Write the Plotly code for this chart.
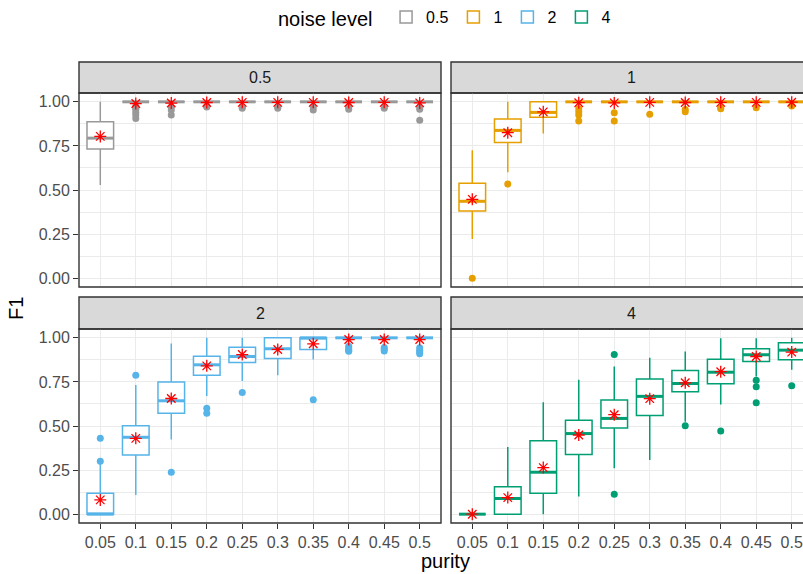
import plotly.graph_objects as go

# ---------------- data ----------------
purity = ["0.05", "0.1", "0.15", "0.2", "0.25", "0.3", "0.35", "0.4", "0.45", "0.5"]
noise_levels = ["0.5", "1", "2", "4"]
colors = ["#999999", "#E69F00", "#56B4E9", "#009E73"]

# noise 0.5
q1_n05 = [0.732, 1, 1, 1, 1, 1, 1, 1, 1, 1]
med_n05 = [0.794, 1, 1, 1, 1, 1, 1, 1, 1, 1]
q3_n05 = [0.887, 1, 1, 1, 1, 1, 1, 1, 1, 1]
lo_n05 = [0.528, 1, 1, 1, 1, 1, 1, 1, 1, 1]
hi_n05 = [1.0, 1, 1, 1, 1, 1, 1, 1, 1, 1]
mean_n05 = [0.804, 0.990, 0.993, 0.996, 0.997, 0.997, 0.997, 0.996, 0.997, 0.994]
out_n05 = [[], [0.975, 0.965, 0.955, 0.94, 0.925, 0.905], [0.97, 0.953, 0.925], [0.975, 0.97],
           [0.97, 0.963], [0.97, 0.963], [0.97, 0.953], [0.97, 0.958], [0.97, 0.963],
           [0.97, 0.958, 0.896]]

# noise 1
q1_n1 = [0.381, 0.770, 0.913, 1, 1, 1, 1, 1, 1, 1]
med_n1 = [0.436, 0.838, 0.940, 1, 1, 1, 1, 1, 1, 1]
q3_n1 = [0.538, 0.902, 1.0, 1, 1, 1, 1, 1, 1, 1]
lo_n1 = [0.222, 0.600, 0.821, 1, 1, 1, 1, 1, 1, 1]
hi_n1 = [0.726, 1.0, 1.0, 1, 1, 1, 1, 1, 1, 1]
mean_n1 = [0.447, 0.825, 0.943, 0.995, 0.994, 0.997, 0.996, 0.997, 0.997, 0.998]
out_n1 = [[0.0], [0.534], [], [0.96, 0.943, 0.925, 0.891], [0.938, 0.891], [0.93],
          [0.957, 0.943], [0.966, 0.96], [0.966], [0.976]]

# noise 2
q1_n2 = [0.0, 0.336, 0.573, 0.788, 0.860, 0.883, 0.934, 1, 1, 1]
med_n2 = [0.0, 0.436, 0.643, 0.847, 0.894, 0.938, 1.0, 1, 1, 1]
q3_n2 = [0.119, 0.502, 0.749, 0.896, 0.947, 1.0, 1.0, 1, 1, 1]
lo_n2 = [0.0, 0.109, 0.424, 0.670, 0.755, 0.788, 0.877, 1, 1, 1]
hi_n2 = [0.29, 0.732, 0.968, 1.0, 1.0, 1.0, 1.0, 1, 1, 1]
mean_n2 = [0.081, 0.430, 0.656, 0.841, 0.905, 0.934, 0.966, 0.990, 0.990, 0.990]
out_n2 = [[0.30, 0.43], [0.788], [0.238], [0.600, 0.572], [0.690], [], [0.649],
          [0.952, 0.94, 0.93, 0.924], [0.945, 0.935, 0.925], [0.943, 0.93, 0.92, 0.909]]

# noise 4
q1_n4 = [0.0, 0.0, 0.119, 0.338, 0.488, 0.560, 0.694, 0.740, 0.866, 0.876]
med_n4 = [0.0, 0.089, 0.238, 0.457, 0.543, 0.668, 0.741, 0.805, 0.904, 0.930]
q3_n4 = [0.0, 0.155, 0.417, 0.532, 0.647, 0.766, 0.815, 0.879, 0.938, 0.972]
lo_n4 = [0.0, 0.0, 0.0, 0.100, 0.260, 0.307, 0.524, 0.622, 0.781, 0.819]
hi_n4 = [0.0, 0.381, 0.634, 0.762, 0.838, 0.887, 0.922, 0.998, 0.998, 1.0]
mean_n4 = [0.0, 0.094, 0.264, 0.449, 0.564, 0.655, 0.745, 0.808, 0.894, 0.919]
out_n4 = [[], [], [], [], [0.905, 0.113], [], [0.502], [0.471], [0.760, 0.723, 0.632], [0.728]]

Q1 = [q1_n05, q1_n1, q1_n2, q1_n4]
MED = [med_n05, med_n1, med_n2, med_n4]
Q3 = [q3_n05, q3_n1, q3_n2, q3_n4]
LO = [lo_n05, lo_n1, lo_n2, lo_n4]
HI = [hi_n05, hi_n1, hi_n2, hi_n4]
MEAN = [mean_n05, mean_n1, mean_n2, mean_n4]
OUT = [out_n05, out_n1, out_n2, out_n4]

# ---------------- figure ----------------
FONT = "Liberation Sans, Arial, Helvetica, sans-serif"
pos = list(range(1, len(purity) + 1))
half = 0.375
panels = [("x", "y"), ("x2", "y2"), ("x3", "y3"), ("x4", "y4")]

fig = go.Figure()
for k, (nl, col) in enumerate(zip(noise_levels, colors)):
    xa, ya = panels[k]
    fig.add_trace(go.Box(
        x=pos, q1=Q1[k], median=MED[k], q3=Q3[k],
        lowerfence=LO[k], upperfence=HI[k],
        width=0.75, whiskerwidth=0, fillcolor="white",
        line=dict(color=col, width=1.5), name=nl, boxpoints=False,
        xaxis=xa, yaxis=ya, legendgroup=nl, showlegend=True, hoverinfo="skip"))
    # thick median lines
    mx, my = [], []
    for p, m in zip(pos, MED[k]):
        mx += [p - half, p + half, None]
        my += [m, m, None]
    fig.add_trace(go.Scatter(x=mx, y=my, mode="lines", line=dict(color=col, width=3),
                             xaxis=xa, yaxis=ya, showlegend=False, hoverinfo="skip"))
    # outliers
    ox, oy = [], []
    for p, vals in zip(pos, OUT[k]):
        for v in vals:
            ox.append(p)
            oy.append(v)
    fig.add_trace(go.Scatter(x=ox, y=oy, mode="markers",
                             marker=dict(color=col, size=7, line=dict(width=0)),
                             xaxis=xa, yaxis=ya, showlegend=False, hoverinfo="skip"))
    # means
    fig.add_trace(go.Scatter(x=pos, y=MEAN[k], mode="markers",
                             marker=dict(symbol="asterisk-open", color="red", size=10,
                                         line=dict(color="red", width=1.3)),
                             xaxis=xa, yaxis=ya, showlegend=False, hoverinfo="skip"))

W, H = 803, 574
ml, mr, mt, mb = 79, 0, 62, 51
pw, ph = W - ml - mr, H - mt - mb

def px_x(px):
    return (px - ml) / pw

def px_y(py):
    return (H - mb - py) / ph

dom_l = [px_x(79), px_x(441)]
dom_r = [px_x(451), 1.0]
dom_t = [px_y(287), px_y(93)]
dom_b = [0.0, px_y(329)]
strip_t = [px_y(93), px_y(62)]
strip_b = [px_y(329), px_y(297)]

unit = (441 - 79) / 10.2
right_max = 0.4 + (W - 451) / unit

grid = dict(showgrid=True, gridcolor="#EBEBEB", gridwidth=1.4, zeroline=False, showline=False)
tickfont = dict(family=FONT, size=16, color="#4D4D4D")

def xax(domain, anchor, rng, labels):
    d = dict(domain=domain, anchor=anchor, range=rng, tickvals=pos, ticktext=purity,
             tickfont=tickfont, fixedrange=True, **grid)
    if labels:
        d.update(ticks="outside", ticklen=5, tickcolor="#333333", tickwidth=1.4, showticklabels=True)
    else:
        d.update(ticks="", showticklabels=False)
    return d

def yax(domain, anchor, labels):
    d = dict(domain=domain, anchor=anchor, range=[-0.05, 1.05], dtick=0.25, tick0=0,
             tickformat=".2f", tickfont=tickfont, fixedrange=True,
             minor=dict(dtick=0.125, tick0=0, showgrid=True, gridcolor="#EBEBEB", gridwidth=0.7),
             **grid)
    if labels:
        d.update(ticks="outside", ticklen=5, tickcolor="#333333", tickwidth=1.4, showticklabels=True)
    else:
        d.update(ticks="", showticklabels=False)
    return d

shapes = []
annotations = []
panel_specs = [
    (dom_l, dom_t, strip_t, noise_levels[0], False),
    (dom_r, dom_t, strip_t, noise_levels[1], True),
    (dom_l, dom_b, strip_b, noise_levels[2], False),
    (dom_r, dom_b, strip_b, noise_levels[3], True),
]
for dx, dy, ds, label, clipped in panel_specs:
    x1 = dx[1] + (0.05 if clipped else 0)
    shapes.append(dict(type="rect", xref="paper", yref="paper", x0=dx[0], x1=x1, y0=ds[0], y1=ds[1],
                       fillcolor="#D9D9D9", line=dict(color="#333333", width=1.4), layer="below"))
    shapes.append(dict(type="rect", xref="paper", yref="paper", x0=dx[0], x1=x1, y0=dy[0], y1=dy[1],
                       fillcolor="rgba(0,0,0,0)", line=dict(color="#333333", width=1.4), layer="above"))
    cx = (dx[0] + (px_x(813) if clipped else dx[1])) / 2
    annotations.append(dict(text=label, x=cx, y=(ds[0] + ds[1]) / 2, xref="paper", yref="paper",
                            showarrow=False, xanchor="center", yanchor="middle",
                            font=dict(family=FONT, size=16, color="#1A1A1A")))

annotations.append(dict(text="F1", x=px_x(16), y=px_y(309), xref="paper", yref="paper",
                        showarrow=False, textangle=-90, xanchor="center", yanchor="middle",
                        font=dict(family=FONT, size=20, color="black")))
annotations.append(dict(text="purity", x=px_x(446), y=px_y(561), xref="paper", yref="paper",
                        showarrow=False, xanchor="center", yanchor="middle",
                        font=dict(family=FONT, size=20, color="black")))

fig.update_layout(
    width=W, height=H,
    margin=dict(l=ml, r=mr, t=mt, b=mb, pad=0),
    paper_bgcolor="white", plot_bgcolor="white",
    font=dict(family=FONT, color="black"),
    xaxis=xax(dom_l, "y", [0.4, 10.6], False),
    xaxis2=xax(dom_r, "y2", [0.4, right_max], False),
    xaxis3=xax(dom_l, "y3", [0.4, 10.6], True),
    xaxis4=xax(dom_r, "y4", [0.4, right_max], True),
    yaxis=yax(dom_t, "x", True),
    yaxis2=yax(dom_t, "x2", False),
    yaxis3=yax(dom_b, "x3", True),
    yaxis4=yax(dom_b, "x4", False),
    shapes=shapes,
    annotations=annotations,
    showlegend=True,
    legend=dict(orientation="h", x=px_x(446), xanchor="center", y=px_y(18), yanchor="middle",
                title=dict(text="noise level ", font=dict(family=FONT, size=20, color="black"), side="left"),
                font=dict(family=FONT, size=16, color="black"), bgcolor="rgba(0,0,0,0)",
                itemclick=False, itemdoubleclick=False),
)

fig.write_html("out.html")
